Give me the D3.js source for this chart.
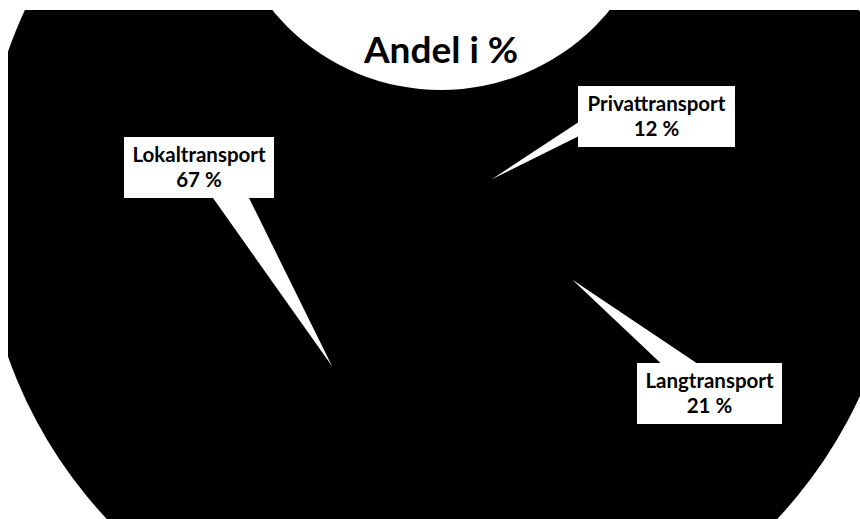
<!DOCTYPE html>
<html>
<head>
<meta charset="utf-8">
<script src="https://cdn.jsdelivr.net/npm/d3@7"></script>
<style>
  body { margin: 0; background: #fff; }
  svg { display: block; }
  text { font-family: Lato, "Open Sans", sans-serif; font-weight: bold; fill: #000; }
</style>
</head>
<body>
<svg id="chart" width="860" height="519"></svg>
<script>
// slices, clockwise from 12 o'clock
const categories = ['Privattransport', 'Langtransport', 'Lokaltransport']
const values = [12, 21, 67]
const title = 'Andel i %'

const width = 860
const height = 519
const svg = d3.select('#chart')

// chart area: dark disc clipped to the plot frame
svg.append('clipPath').attr('id', 'frame')
  .append('rect').attr('x', 8).attr('y', 10).attr('width', width).attr('height', height)

svg.append('circle')
  .attr('clip-path', 'url(#frame)')
  .attr('cx', 442).attr('cy', 204).attr('r', 460)
  .attr('fill', '#000')

// white halo behind the title
svg.append('circle')
  .attr('cx', 441).attr('cy', -128).attr('r', 218)
  .attr('fill', '#fff')

svg.append('text')
  .attr('x', 441).attr('y', 63)
  .attr('text-anchor', 'middle')
  .style('font-size', '37px')
  .text(title)

// pie
const cx = 444
const cy = 300
const radius = 205

const pie = d3.pie().sort(null).value(d => d)
const arc = d3.arc().innerRadius(0).outerRadius(radius)
const tipArc = d3.arc().innerRadius(130).outerRadius(130)

const g = svg.append('g').attr('transform', `translate(${cx},${cy})`)
const arcs = pie(values)

g.selectAll('path.slice')
  .data(arcs)
  .enter().append('path')
  .attr('class', 'slice')
  .attr('d', arc)
  .attr('fill', '#000')
  .attr('stroke', '#000')

// callout boxes (box relative to pie centre, pointer base on one edge)
const callouts = [
  { x: 134, y: -214, w: 157, h: 61, edge: 'left', at: 13, half: 7 },
  { x: 193, y: 63, w: 145, h: 61, edge: 'top', at: -31, half: 18 },
  { x: -320, y: -163, w: 150, h: 61, edge: 'bottom', at: 32, half: 18 }
]

arcs.forEach((d, i) => {
  const c = callouts[i]
  const tip = tipArc.centroid(d)
  let base
  if (c.edge === 'left') {
    const m = c.y + c.h / 2 + c.at
    base = [[c.x, m - c.half], [c.x, m + c.half]]
  } else if (c.edge === 'top') {
    const m = c.x + c.w / 2 + c.at
    base = [[m - c.half, c.y], [m + c.half, c.y]]
  } else {
    const m = c.x + c.w / 2 + c.at
    base = [[m - c.half, c.y + c.h], [m + c.half, c.y + c.h]]
  }
  g.append('path')
    .attr('d', d3.line()([base[0], tip, base[1]]) + 'Z')
    .attr('fill', '#fff')

  g.append('rect')
    .attr('x', c.x).attr('y', c.y)
    .attr('width', c.w).attr('height', c.h)
    .attr('fill', '#fff')

  const t = g.append('text')
    .attr('text-anchor', 'middle')
    .style('font-size', '20.5px')
  t.append('tspan').attr('x', c.x + c.w / 2).attr('y', c.y + 25).text(categories[i])
  t.append('tspan').attr('x', c.x + c.w / 2).attr('y', c.y + 50).text(values[i] + ' %')
})
</script>
</body>
</html>
